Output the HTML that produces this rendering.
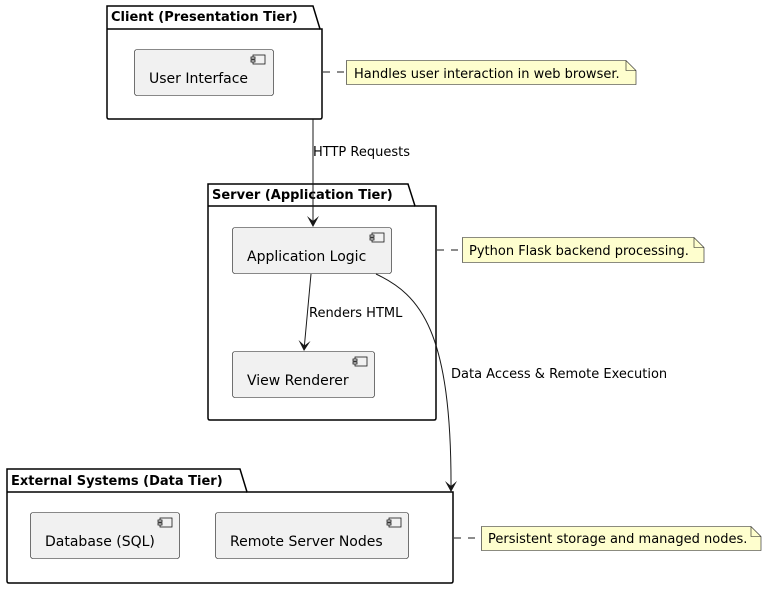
<!DOCTYPE html>
<html><head><meta charset="utf-8"><style>
html,body{margin:0;padding:0;background:#fff;}
svg{display:block;font-family:"DejaVu Sans","Liberation Sans",sans-serif;}
</style></head><body>
<svg width="766" height="589" viewBox="0 0 766 589" xmlns="http://www.w3.org/2000/svg">
<defs>
<g id="ci"><rect x="2" y="0" width="12" height="9" fill="#f1f1f1" stroke="#181818" stroke-width="0.8"/><rect x="0" y="2" width="4" height="2" fill="#f1f1f1" stroke="#181818" stroke-width="0.8"/><rect x="0" y="5" width="4" height="2" fill="#f1f1f1" stroke="#181818" stroke-width="0.8"/></g>
</defs>
<!-- Client package -->
<path d="M107,6 L313,6 L320,29 L322,29 L322,117 Q322,119 320,119 L109,119 Q107,119 107,117 Z" fill="#fff" stroke="#000" stroke-width="1.5"/>
<line x1="107" y1="29" x2="320" y2="29" stroke="#000" stroke-width="1.5"/>
<text x="111" y="21" font-size="13" font-weight="bold">Client (Presentation Tier)</text>
<rect x="134.5" y="49.5" width="139" height="46" rx="2.5" fill="#f1f1f1" stroke="#181818" stroke-width="0.6"/>
<use href="#ci" x="251" y="55"/>
<text x="149" y="83" font-size="14">User Interface</text>
<!-- Note 1 -->
<line x1="323" y1="72" x2="346" y2="72" stroke="#181818" stroke-dasharray="7,7"/>
<path d="M346.5,60.5 L626,60.5 L636,70.5 L636,84.5 L346.5,84.5 Z" fill="#fefece" stroke="#181818" stroke-width="0.6"/>
<path d="M626,60.5 L626,70.5 L636,70.5" fill="none" stroke="#181818" stroke-width="0.6"/>
<text x="354" y="78" font-size="13">Handles user interaction in web browser.</text>
<!-- Server package -->
<path d="M208,184 L408,184 L415,206 L436,206 L436,418 Q436,420 434,420 L210,420 Q208,420 208,418 Z" fill="#fff" stroke="#000" stroke-width="1.5"/>
<line x1="208" y1="206" x2="415" y2="206" stroke="#000" stroke-width="1.5"/>
<text x="212" y="199" font-size="13" font-weight="bold">Server (Application Tier)</text>
<rect x="232.5" y="227.5" width="159" height="46" rx="2.5" fill="#f1f1f1" stroke="#181818" stroke-width="0.6"/>
<use href="#ci" x="370" y="233"/>
<text x="247" y="261" font-size="14">Application Logic</text>
<rect x="232.5" y="351.5" width="142" height="46" rx="2.5" fill="#f1f1f1" stroke="#181818" stroke-width="0.6"/>
<use href="#ci" x="353" y="357"/>
<text x="247" y="385" font-size="14">View Renderer</text>
<!-- Note 2 -->
<line x1="437" y1="250" x2="461" y2="250" stroke="#181818" stroke-dasharray="7,7"/>
<path d="M462.5,237.5 L694,237.5 L704,247.5 L704,262.5 L462.5,262.5 Z" fill="#fefece" stroke="#181818" stroke-width="0.6"/>
<path d="M694,237.5 L694,247.5 L704,247.5" fill="none" stroke="#181818" stroke-width="0.6"/>
<text x="469" y="255" font-size="13">Python Flask backend processing.</text>
<!-- External package -->
<path d="M7,469 L240,469 L247,492 L453,492 L453,581 Q453,583 451,583 L9,583 Q7,583 7,581 Z" fill="#fff" stroke="#000" stroke-width="1.5"/>
<line x1="7" y1="492" x2="247" y2="492" stroke="#000" stroke-width="1.5"/>
<text x="11" y="485" font-size="13" font-weight="bold">External Systems (Data Tier)</text>
<rect x="30.5" y="512.5" width="149" height="46" rx="2.5" fill="#f1f1f1" stroke="#181818" stroke-width="0.6"/>
<use href="#ci" x="158" y="518"/>
<text x="45" y="546" font-size="14">Database (SQL)</text>
<rect x="215.5" y="512.5" width="193" height="46" rx="2.5" fill="#f1f1f1" stroke="#181818" stroke-width="0.6"/>
<use href="#ci" x="387" y="518"/>
<text x="230" y="546" font-size="14">Remote Server Nodes</text>
<!-- Note 3 -->
<line x1="454" y1="538" x2="481" y2="538" stroke="#181818" stroke-dasharray="7,7"/>
<path d="M481.5,526.5 L751,526.5 L761,536.5 L761,550.5 L481.5,550.5 Z" fill="#fefece" stroke="#181818" stroke-width="0.6"/>
<path d="M751,526.5 L751,536.5 L761,536.5" fill="none" stroke="#181818" stroke-width="0.6"/>
<text x="488" y="543" font-size="13">Persistent storage and managed nodes.</text>
<!-- Arrows -->
<line x1="313" y1="119" x2="313" y2="226" stroke="#181818"/>
<path d="M307,216 L313,227 L319,216 L313,221 Z" fill="#181818"/>
<text x="313" y="156" font-size="13">HTTP Requests</text>
<line x1="311" y1="274" x2="304" y2="350" stroke="#181818"/>
<path d="M298.5,340 L304,351 L310.5,341 L304.5,345.5 Z" fill="#181818"/>
<text x="309" y="317" font-size="13">Renders HTML</text>
<path d="M376,274 C420,295 452,330 451,491" fill="none" stroke="#181818"/>
<path d="M445,481 L451,492 L457,481 L451,486 Z" fill="#181818"/>
<text x="451" y="378" font-size="13">Data Access &amp; Remote Execution</text>
</svg>
</body></html>
